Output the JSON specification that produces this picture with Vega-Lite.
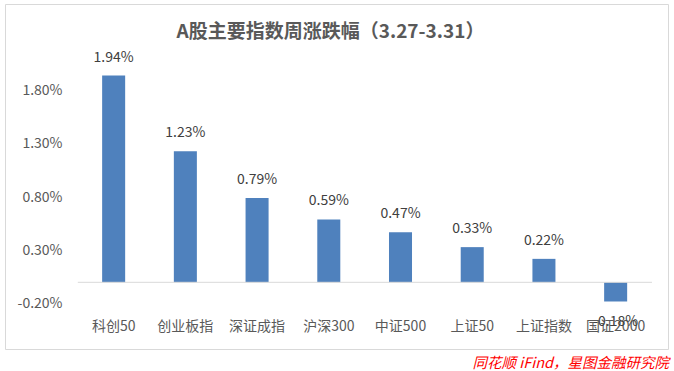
{
  "$schema": "https://vega.github.io/schema/vega-lite/v6.json",
  "autosize": {"type": "none"},
  "width": 663,
  "height": 345,
  "padding": {"left": 5, "top": 4, "right": 6, "bottom": 22},
  "background": "white",
  "config": {
    "view": {"stroke": "#d9d9d9", "strokeWidth": 1},
    "font": "Noto Sans CJK SC",
    "locale": {"number": {"decimal": ".", "thousands": ",", "grouping": [3], "currency": ["", ""], "minus": "-"}}
  },
  "title": {
    "text": "A股主要指数周涨跌幅（3.27-3.31）",
    "anchor": "middle",
    "fontSize": 19,
    "fontWeight": "bold",
    "color": "#595959",
    "font": "Noto Sans CJK SC",
    "baseline": "middle",
    "offset": -47,
    "dx": -6
  },
  "data": {
    "values": [
      {"index": "科创50", "change": 0.0194, "label": "1.94%"},
      {"index": "创业板指", "change": 0.0123, "label": "1.23%"},
      {"index": "深证成指", "change": 0.0079, "label": "0.79%"},
      {"index": "沪深300", "change": 0.0059, "label": "0.59%"},
      {"index": "中证500", "change": 0.0047, "label": "0.47%"},
      {"index": "上证50", "change": 0.0033, "label": "0.33%"},
      {"index": "上证指数", "change": 0.0022, "label": "0.22%"},
      {"index": "国证2000", "change": -0.0018, "label": "-0.18%"}
    ]
  },
  "layer": [
    {
      "encoding": {
        "x": {
          "field": "index",
          "type": "nominal",
          "sort": null,
          "scale": {"paddingInner": 0.679, "paddingOuter": 0.962, "align": 0.704},
          "axis": {
            "title": null,
            "orient": "bottom",
            "domain": false,
            "ticks": false,
            "tickSize": 0,
            "labelPadding": 0,
            "offset": -23,
            "labelBaseline": "middle",
            "labelAngle": 0,
            "labelFontSize": 14,
            "labelColor": "#595959",
            "labelFont": "Noto Sans CJK SC"
          }
        },
        "y": {
          "field": "change",
          "type": "quantitative",
          "scale": {"domain": [-0.006257, 0.02611], "nice": false, "zero": false},
          "axis": {
            "title": null,
            "values": [-0.002, 0.003, 0.008, 0.013, 0.018],
            "format": ".2%",
            "domain": false,
            "ticks": false,
            "tickSize": 0,
            "grid": false,
            "labelPadding": 0,
            "offset": -57,
            "labelFontSize": 14,
            "labelColor": "#595959",
            "labelFont": "Noto Sans CJK SC"
          }
        }
      },
      "layer": [
        {"mark": {"type": "bar", "color": "#4f81bd"}},
        {
          "transform": [{"filter": "datum.change >= 0"}],
          "mark": {"type": "text", "baseline": "alphabetic", "dy": -14, "fontSize": 14, "color": "#404040", "font": "Noto Sans CJK SC"},
          "encoding": {"text": {"field": "label"}}
        },
        {
          "transform": [{"filter": "datum.change < 0"}],
          "mark": {"type": "text", "baseline": "alphabetic", "dy": 25, "fontSize": 14, "color": "#404040", "font": "Noto Sans CJK SC"},
          "encoding": {"text": {"field": "label"}}
        }
      ]
    },
    {
      "data": {"values": [{"pos0": 0, "pos1": 1, "zero": 0, "creditX": 1.0297, "creditY": -0.00762, "credit": "同花顺 iFind，星图金融研究院"}]},
      "encoding": {},
      "layer": [
        {
          "mark": {"type": "rule", "color": "#d9d9d9", "strokeWidth": 1},
          "encoding": {
            "x": {"field": "pos0", "type": "quantitative", "scale": {"domain": [-0.1268, 1.0279], "nice": false, "zero": false}, "axis": null},
            "x2": {"field": "pos1"},
            "y": {"field": "zero", "type": "quantitative"}
          }
        },
        {
          "mark": {"type": "text", "align": "right", "baseline": "middle", "fontSize": 14.5, "fontStyle": "italic", "color": "#ff0000", "font": "Noto Sans CJK SC"},
          "encoding": {
            "x": {"field": "creditX", "type": "quantitative", "axis": null},
            "y": {"field": "creditY", "type": "quantitative"},
            "text": {"field": "credit"}
          }
        }
      ]
    }
  ],
  "resolve": {"scale": {"x": "independent"}, "axis": {"x": "independent"}}
}
